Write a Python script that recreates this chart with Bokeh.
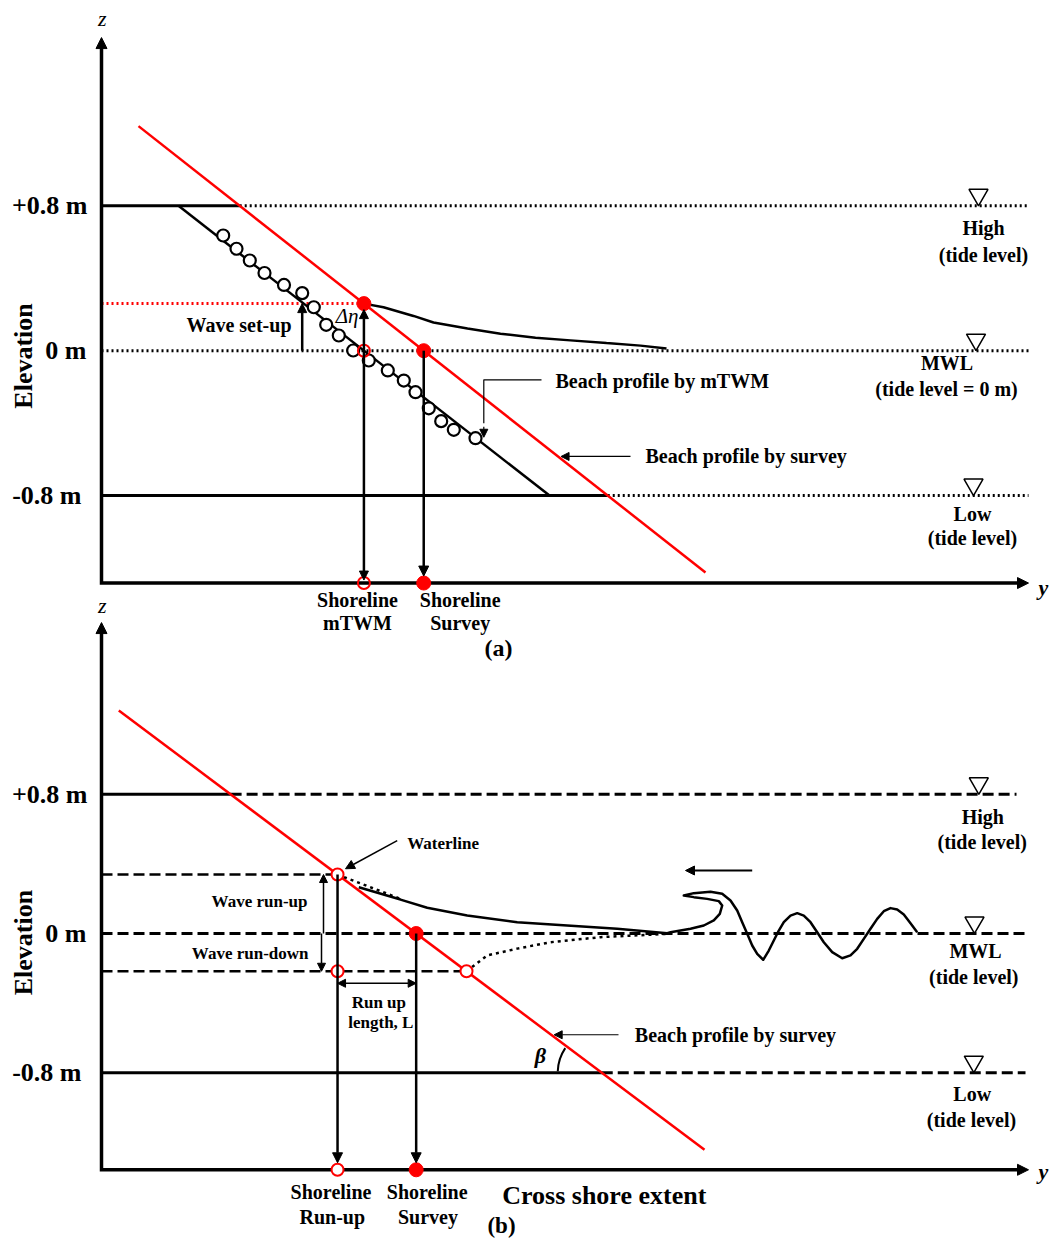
import numpy as np
from bokeh.plotting import figure
from bokeh.models import Range1d, Arrow, NormalHead
from bokeh.core.properties import value
from bokeh.embed import file_html
from bokeh.resources import INLINE

RED = "#ff0000"
SERIF = value("Liberation Serif")

# Tide levels shared by both sketches (m)
LEVELS = [0.8, 0.0, -0.8]
LEVEL_LABELS = ["+0.8 m", "0 m", "-0.8 m"]

# ---------- (a) wave set-up: mTWM shoreline vs surveyed shoreline ----------
A_SURVEY_Y = [37.0, 604.0]          # surveyed beach profile (cross-shore units)
A_SURVEY_Z = [1.24, -1.225]         # elevation (m)
A_MTWM_Y = [77.0, 448.0]            # beach profile from mTWM
A_MTWM_Z = [0.8, -0.8]
A_OBS_Y = [121.7, 135.0, 148.3, 163.0, 182.5, 200.7, 212.3, 224.7, 237.3,
           251.7, 267.3, 286.3, 302.3, 314.0, 327.3, 339.7, 352.3, 374.0]
A_OBS_Z = [0.636, 0.563, 0.498, 0.429, 0.363, 0.318, 0.240, 0.143, 0.084,
           0.001, -0.054, -0.109, -0.165, -0.229, -0.318, -0.389, -0.437, -0.483]
A_SETUP = 0.26                      # wave set-up level (m)
A_SETUP_Y = [262.4, 282, 312, 332, 366, 399, 434, 469, 505, 539, 565]
A_SETUP_Z = [0.26, 0.240, 0.192, 0.156, 0.122, 0.094, 0.072, 0.057, 0.042, 0.028, 0.012]
A_AXIS_Z = [-1.283, 1.729]
A_LEVEL_ENDS = [927, 927, 927]
A_TIDE_TEXT = ["High", "(tide level)", "MWL", "(tide level = 0 m)", "Low", "(tide level)"]
A_TIDE_Y = [882, 882, 845.6, 845, 871, 871]
A_TIDE_Z = [0.675, 0.531, -0.069, -0.209, -0.899, -1.037]
A_TRI_Y = [877, 874.5, 872]

# ---------- (b) run-up and run-down of the swash ----------
B_SURVEY_Y = [17.3, 603.0]
B_SURVEY_Z = [1.282, -1.243]
B_RUNUP = 0.339
B_RUNDOWN = -0.217
B_SWASH_Y = [257.3, 299, 325.7, 365.7, 415.7, 465.7, 515.7, 565.7]
B_SWASH_Z = [0.266, 0.195, 0.148, 0.103, 0.065, 0.046, 0.027, 0.002]
B_UPRUSH_Y = [236.0, 299.0]
B_UPRUSH_Z = [0.339, 0.199]
B_BACKWASH_Y = [365.0, 385.7, 415.7, 449.0, 499.0, 565.7]
B_BACKWASH_Z = [-0.217, -0.126, -0.087, -0.050, -0.021, -0.002]
B_WAVE_Y = [565.7, 569, 589, 602.3, 612.3, 618.3, 620.7, 617.3, 605.7, 592.3, 582.3,
            592.3, 609, 620.7, 629, 635.7, 640.7, 645.7, 650.7, 655.7, 661.7,
            667.3, 672.3, 677.3, 682.3, 689, 695.7, 702.3, 709, 715.7, 722.3,
            730.7, 740.7, 749, 755.7, 762.3, 769, 775.7, 782.3, 789, 795.7,
            802.3, 809, 815.7]
B_WAVE_Z = [0.002, 0.007, 0.027, 0.046, 0.075, 0.113, 0.161, 0.186, 0.199, 0.209, 0.218,
            0.232, 0.240, 0.228, 0.190, 0.132, 0.065, -0.002, -0.069, -0.117, -0.151,
            -0.098, -0.040, 0.017, 0.065, 0.103, 0.117, 0.103, 0.065, 0.007, -0.050,
            -0.107, -0.142, -0.126, -0.088, -0.031, 0.027, 0.084, 0.128, 0.146, 0.138,
            0.109, 0.059, 0.007]
B_AXIS_Z = [-1.358, 1.787]
B_LEVEL_ENDS = [915, 927, 924]
B_TIDE_TEXT = ["High", "(tide level)", "MWL", "(tide level)", "Low", "(tide level)"]
B_TIDE_Y = [881.3, 880.7, 874, 872.3, 870.7, 870]
B_TIDE_Z = [0.668, 0.525, -0.102, -0.251, -0.921, -1.071]
B_TRI_Y = [877.3, 873, 872.3]

TICK_RIGHT = [-14, -15, -20]

A_RANGE = (-4.9188, 1.9337)
B_RANGE = (-1.7701, 5.3621)
H = 1241
PPM = {"default": H / (A_RANGE[1] - A_RANGE[0]), "b": H / (B_RANGE[1] - B_RANGE[0])}

p = figure(width=1052, height=H, x_range=Range1d(-101, 951),
           y_range=Range1d(*A_RANGE), output_backend="svg", toolbar_location=None,
           x_axis_location=None, y_axis_location=None, min_border=0,
           outline_line_color=None, title=None)
p.extra_y_ranges = {"b": Range1d(*B_RANGE)}
p.grid.visible = False


def ycross(z, ys, zs):
    """Cross-shore position where a straight profile reaches elevation z."""
    return float(np.interp(z, list(zs)[::-1], list(ys)[::-1]))


def txt(rng, xs, zs, texts, size, align="center", style="bold", angle=0.0):
    p.text(x=xs, y=zs, text=texts, y_range_name=rng, text_font=SERIF,
           text_font_size=f"{size}px", text_font_style=style, text_align=align,
           text_baseline="middle", angle=angle, text_color="black")


def head(size):
    return NormalHead(size=size, fill_color="black", line_color="black", line_width=1)


def arrow(rng, x0, z0, x1, z1, width=2.5, size=9, both=False, alpha=1.0):
    kw = dict(x_start=x0, y_start=z0, x_end=x1, y_end=z1, y_range_name=rng,
              line_color="black", line_width=width, line_alpha=alpha, end=head(size))
    if both:
        kw["start"] = head(size)
    p.add_layout(Arrow(**kw))


def frame(rng, zb, zt, yend):
    ppm = PPM[rng]
    p.line([0, 0, yend - 9], [zt - 9 / ppm, zb, zb], line_width=3.5,
           line_join="miter", color="black", y_range_name=rng)
    arrow(rng, 0, zt - 14 / ppm, 0, zt, width=3.5, size=11, alpha=0.0)
    arrow(rng, yend - 14, zb, yend, zb, width=3.5, size=11, alpha=0.0)


def tide_lines(rng, sy, sz, ends, dash, width):
    for z, end in zip(LEVELS, ends):
        if z == 0:
            p.line([0, end], [z, z], color="black", line_width=width,
                   line_dash=dash, y_range_name=rng)
        else:
            xc = ycross(z, sy, sz)
            p.line([0, xc], [z, z], color="black", line_width=3, y_range_name=rng)
            p.line([xc, end], [z, z], color="black", line_width=width,
                   line_dash=dash, y_range_name=rng)


def tide_marks(rng, tri_y, texts, ty, tz):
    ppm = PPM[rng]
    p.scatter(tri_y, [z + 11 / ppm for z in LEVELS], marker="inverted_triangle",
              size=19, fill_color="white", line_color="black", line_width=1.5,
              y_range_name=rng)
    txt(rng, ty, tz, texts, 20)


def level_labels(rng, elev_z):
    txt(rng, TICK_RIGHT, LEVELS, LEVEL_LABELS, 26, align="right")
    txt(rng, [-78.3], [elev_z], ["Elevation"], 26, angle=np.pi / 2)


# ======================= panel (a) =======================
r = "default"
ppa = PPM[r]
za_b, za_t = A_AXIS_Z
ys0 = ycross(0.0, A_SURVEY_Y, A_SURVEY_Z)          # surveyed shoreline
ysu = ycross(A_SETUP, A_SURVEY_Y, A_SURVEY_Z)      # set-up shoreline (mTWM)

tide_lines(r, A_SURVEY_Y, A_SURVEY_Z, A_LEVEL_ENDS, "2 3", 3)
p.line([0, ysu], [A_SETUP, A_SETUP], color=RED, line_width=3, line_dash="2 3")
frame(r, za_b, za_t, 927)

p.line(A_MTWM_Y, A_MTWM_Z, color="black", line_width=2.5)
p.line(A_SURVEY_Y, A_SURVEY_Z, color=RED, line_width=2.5)
p.line(A_SETUP_Y, A_SETUP_Z, color="black", line_width=2.5)
p.scatter(A_OBS_Y, A_OBS_Z, marker="circle", size=12, fill_color="white",
          line_color="black", line_width=2.2)

# set-up arrow, shoreline drop lines
arrow(r, 200.7, 0.0, 200.7, A_SETUP, width=2.5, size=9)
arrow(r, ysu, za_b + 3 / ppa, ysu, A_SETUP - 6 / ppa, width=2.5, size=9, both=True)
arrow(r, ys0, 0.0, ys0, za_b + 7 / ppa, width=2.5, size=10)

p.scatter([ysu, ys0, ys0], [A_SETUP, 0.0, za_b], marker="circle", size=14,
          fill_color=RED, line_color=RED)
p.scatter([ysu, ysu], [0.0, za_b], marker="circle", size=12, fill_color=None,
          line_color=RED, line_width=2)

# leaders
zl = -0.161
p.line([440, 382.3, 382.3], [zl, zl, -0.40], color="black", line_width=1.2)
arrow(r, 382.3, -0.42, 382.3, -0.478, width=1.2, size=8)
txt(r, [454], [-0.17], ["Beach profile by mTWM"], 20, align="left")
zs_ = -0.584
arrow(r, 529, zs_, ycross(zs_, A_SURVEY_Y, A_SURVEY_Z) + 3, zs_, width=1.2, size=8)
txt(r, [544], [zs_], ["Beach profile by survey"], 20, align="left")

txt(r, [190], [0.143], ["Wave set-up"], 20, align="right")
txt(r, [257], [0.19], ["\u0394\u03b7"], 21, align="right", style="italic")

tide_marks(r, A_TRI_Y, A_TIDE_TEXT, A_TIDE_Y, A_TIDE_Z)
level_labels(r, -0.029)
txt(r, [0.7], [1.834], ["z"], 22, style="italic")
txt(r, [942], [-1.306], ["y"], 22, style="bold italic")
txt(r, [256, 256, 358.7, 358.7], [-1.374, -1.506, -1.374, -1.506],
    ["Shoreline", "mTWM", "Shoreline", "Survey"], 20)
txt(r, [397], [-1.644], ["(a)"], 24)

# ======================= panel (b) =======================
r = "b"
ppb = PPM[r]
zb_b, zb_t = B_AXIS_Z
yb0 = ycross(0.0, B_SURVEY_Y, B_SURVEY_Z)
ybu = ycross(B_RUNUP, B_SURVEY_Y, B_SURVEY_Z)
ybd = ycross(B_RUNDOWN, B_SURVEY_Y, B_SURVEY_Z)
ybl = ycross(-0.8, B_SURVEY_Y, B_SURVEY_Z)

tide_lines(r, B_SURVEY_Y, B_SURVEY_Z, B_LEVEL_ENDS, "11 5", 3)
p.line([0, ybu], [B_RUNUP, B_RUNUP], color="black", line_width=2.5,
       line_dash="11 5", y_range_name=r)
p.line([0, ybd], [B_RUNDOWN, B_RUNDOWN], color="black", line_width=2.5,
       line_dash="11 5", y_range_name=r)
frame(r, zb_b, zb_t, 927)

p.line(B_SURVEY_Y, B_SURVEY_Z, color=RED, line_width=2.5, y_range_name=r)
p.line(B_SWASH_Y, B_SWASH_Z, color="black", line_width=2.5, y_range_name=r)
p.line(B_UPRUSH_Y, B_UPRUSH_Z, color="black", line_width=2.5, line_dash="3 4",
       y_range_name=r)
p.line(B_BACKWASH_Y, B_BACKWASH_Z, color="black", line_width=2.5, line_dash="3 4",
       y_range_name=r)
p.line(B_WAVE_Y, B_WAVE_Z, color="black", line_width=2.5, line_join="round",
       y_range_name=r)
arrow(r, 650.7, 0.362, 584, 0.362, width=2, size=9)

# run-up / run-down extents
arrow(r, 222, 0.0, 222, B_RUNUP, width=1.5, size=8)
arrow(r, 220, 0.0, 220, B_RUNDOWN, width=1.5, size=8)
txt(r, [206], [0.186], ["Wave run-up"], 17, align="right")
txt(r, [207], [-0.113], ["Wave run-down"], 17, align="right")

# shoreline drop lines and run-up length
arrow(r, ybu, B_RUNUP, ybu, zb_b + 7 / ppb, width=2.5, size=10)
arrow(r, yb0, 0.0, yb0, zb_b + 7 / ppb, width=2.5, size=10)
zrl = -0.286
arrow(r, ybu, zrl, yb0, zrl, width=1.5, size=8, both=True)
xm = (ybu + yb0) / 2
txt(r, [xm + 2, xm + 4], [-0.395, -0.51], ["Run up", "length, L"], 17)

p.scatter([yb0, yb0], [0.0, zb_b], marker="circle", size=14, fill_color=RED,
          line_color=RED, y_range_name=r)
p.scatter([ybu, ybu, ybd, ybu], [B_RUNUP, B_RUNDOWN, B_RUNDOWN, zb_b],
          marker="circle", size=12, fill_color="white", line_color=RED,
          line_width=2, y_range_name=r)

arrow(r, 295.7, 0.534, 244, 0.372, width=1.5, size=9)
txt(r, [305.7], [0.516], ["Waterline"], 17, align="left")

zs_ = -0.582
arrow(r, 517, zs_, ycross(zs_, B_SURVEY_Y, B_SURVEY_Z) + 3, zs_, width=1.2, size=8)
txt(r, [533.3], [zs_], ["Beach profile by survey"], 20, align="left")

p.arc(x=[ybl], y=[-0.8], radius=44, radius_units="screen",
      start_angle=np.radians(146), end_angle=np.radians(178),
      line_color="black", line_width=2, y_range_name=r)
txt(r, [439], [-0.701], ["\u03b2"], 22, style="bold italic")

tide_marks(r, B_TRI_Y, B_TIDE_TEXT, B_TIDE_Y, B_TIDE_Z)
level_labels(r, -0.052)
txt(r, [0.7], [1.885], ["z"], 22, style="italic")
txt(r, [942], [-1.37], ["y"], 22, style="bold italic")
txt(r, [229.5, 230.8, 325.7, 326.5], [-1.487, -1.631, -1.487, -1.631],
    ["Shoreline", "Run-up", "Shoreline", "Survey"], 20)
txt(r, [400.7], [-1.506], ["Cross shore extent"], 26, align="left")
txt(r, [400], [-1.68], ["(b)"], 23)

open("out.html", "w").write(file_html(p, INLINE))
